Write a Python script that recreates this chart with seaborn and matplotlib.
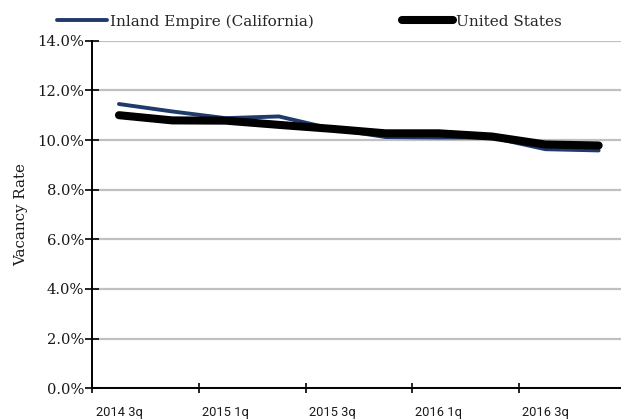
import numpy as np
import pandas as pd
import matplotlib
matplotlib.use("Agg")
import matplotlib.pyplot as plt
import seaborn as sns

# Quarterly vacancy rates (%)
quarters = ["2014 3q", "2014 4q", "2015 1q", "2015 2q", "2015 3q",
            "2015 4q", "2016 1q", "2016 2q", "2016 3q", "2016 4q"]
inland_empire = [11.45, 11.15, 10.88, 10.95, 10.45, 10.12, 10.10, 10.10, 9.63, 9.58]
united_states = [11.00, 10.79, 10.78, 10.61, 10.45, 10.27, 10.27, 10.14, 9.82, 9.78]
series_names = ["Inland Empire (California)", "United States"]
y_ticks = [0, 2, 4, 6, 8, 10, 12, 14]

sns.set_theme(style="white")
plt.rcParams["font.family"] = ["DejaVu Serif"]

df = pd.DataFrame({
    "pos": list(range(len(quarters))) * 2,
    "rate": inland_empire + united_states,
    "series": [series_names[0]] * len(quarters) + [series_names[1]] * len(quarters),
})

fig = plt.figure(figsize=(6.21, 4.20), dpi=100)
ax = fig.add_axes([92.3 / 621, 31.7 / 420, (621 - 92.3) / 621, (388.3 - 40.7) / 420])

palette = {series_names[0]: "#1F3A6B", series_names[1]: "#000000"}
widths = {series_names[0]: 2.8, series_names[1]: 5.8}
for name in series_names:
    sub = df[df["series"] == name]
    sns.lineplot(data=sub, x="pos", y="rate", ax=ax, color=palette[name],
                 linewidth=widths[name], label=name, legend=False,
                 solid_capstyle="round", zorder=3)

ax.set_ylim(0, 14)
ax.set_xlim(-0.5, -0.5 + (621 - 92.3) / 53.3)

# horizontal gridlines
ax.set_yticks(y_ticks)
ax.set_yticklabels([f"{v:.1f}%" for v in y_ticks], fontsize=10.6, color="#1a1a1a")
ax.yaxis.grid(True, color="#C0C0C0", linewidth=1.6)
ax.xaxis.grid(False)
ax.set_axisbelow(True)

# category boundaries as major ticks, labels on every other category
ax.set_xticks(np.arange(-0.5, len(quarters) - 1, 2))
ax.set_xticklabels([])
ax.set_xticks(np.arange(0, len(quarters), 2), minor=True)
ax.set_xticklabels(quarters[::2], minor=True, fontsize=9.3,
                   family=["Roboto", "DejaVu Sans"], color="#1a1a1a")
ax.tick_params(axis="x", which="major", direction="inout", length=7.2,
               width=1.2, color="black", bottom=True)
ax.tick_params(axis="x", which="minor", length=0, pad=12.5, bottom=True)
ax.tick_params(axis="y", direction="inout", length=9.5, width=1.2,
               color="black", left=True, pad=1.2)

for side in ["top", "right"]:
    ax.spines[side].set_visible(False)
for side in ["left", "bottom"]:
    ax.spines[side].set_color("black")
    ax.spines[side].set_linewidth(1.4)

ax.set_xlabel("")
ax.set_ylabel("Vacancy Rate", fontsize=10.8, color="#1a1a1a")
ax.yaxis.set_label_coords(-0.122, 0.5)

handles, labels = ax.get_legend_handles_labels()
fig.legend(handles, labels, loc="center left",
           bbox_to_anchor=(57 / 621, 1 - 21.5 / 420), ncol=2, frameon=False,
           fontsize=11, handlelength=3.3, handletextpad=0.2,
           columnspacing=5.75, borderpad=0, borderaxespad=0)

fig.savefig("out.png", dpi=100)
